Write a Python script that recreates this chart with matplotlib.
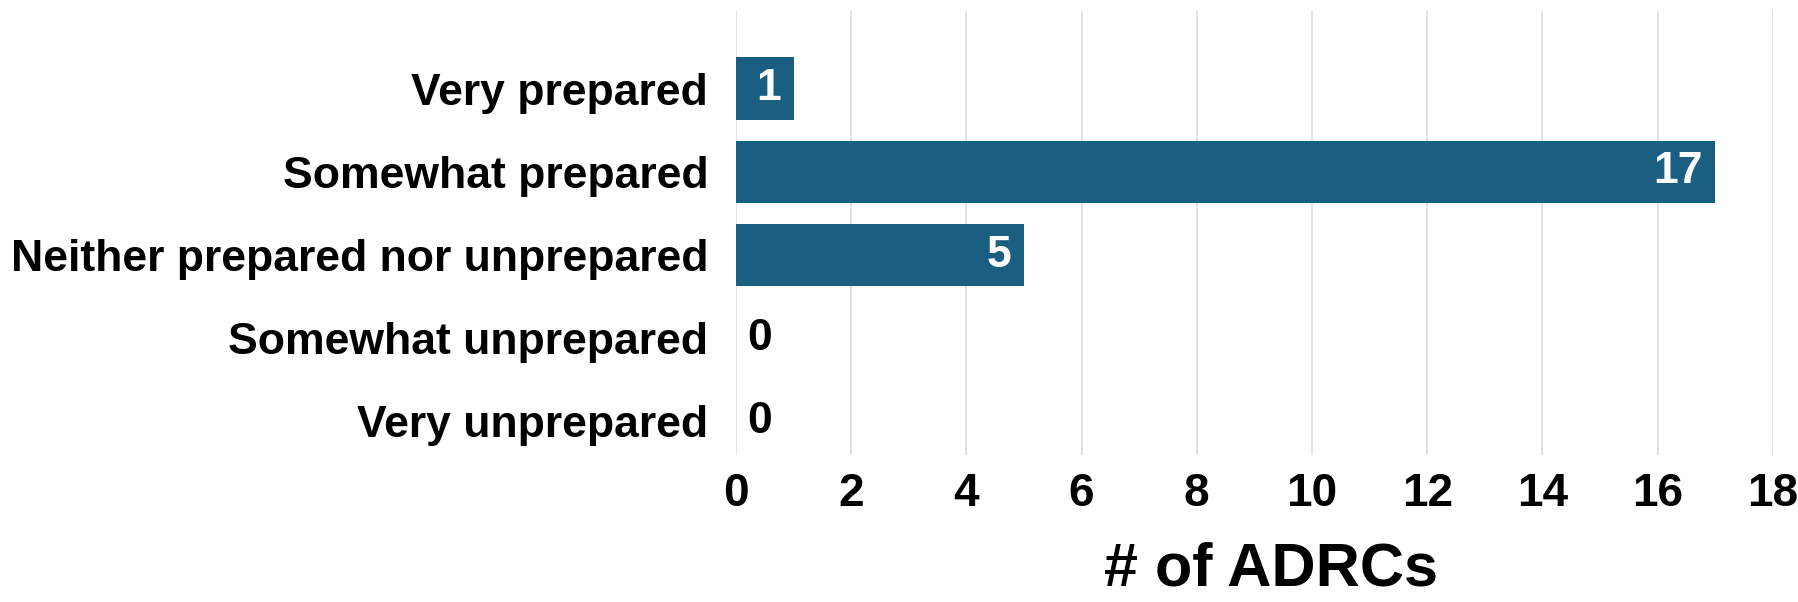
import numpy as np
import matplotlib.pyplot as plt

categories = ['Very prepared', 'Somewhat prepared', 'Neither prepared nor unprepared',
              'Somewhat unprepared', 'Very unprepared']
counts = [1, 17, 5, 0, 0]
xticks = [0, 2, 4, 6, 8, 10, 12, 14, 16, 18]

plt.rcParams['font.family'] = ['Liberation Sans', 'DejaVu Sans']
plt.rcParams['font.weight'] = 'bold'

fig = plt.figure(figsize=(17.98, 6.02), dpi=100)
ax = fig.add_axes([0.4093, 0.244, 0.5767, 0.738])

y = np.arange(len(categories))
ax.barh(y, counts, height=0.75, color='#1A5E82', zorder=2)

# value labels: inside the bar end, or just right of zero
for yi, c in zip(y, counts):
    if c > 0:
        ax.annotate(str(c), (c, yi), xytext=(-9, 0), textcoords='offset points',
                    ha='right', va='center', color='white', fontsize=32, fontweight='bold')
    else:
        ax.annotate(str(c), (0, yi), xytext=(8, 0), textcoords='offset points',
                    ha='left', va='center', color='black', fontsize=32, fontweight='bold')

ax.set_xlim(0, 18)
ax.set_ylim(4.405, -0.935)
ax.set_yticks(y)
ax.set_yticklabels(categories, fontsize=32, fontweight='bold')
ax.set_xticks(xticks)
ax.set_xticklabels([str(t) for t in xticks], fontsize=33, fontweight='bold')
ax.tick_params(axis='y', length=0, pad=20)
ax.tick_params(axis='x', length=0, pad=12)
ax.grid(axis='x', color='#DDDDDD', linewidth=1.2, zorder=0)
for s in ax.spines.values():
    s.set_visible(False)

ax.set_xlabel('# of ADRCs', fontsize=44, fontweight='bold')
ax.xaxis.set_label_coords(0.516, -0.195)

plt.savefig('out.png', dpi=100)
